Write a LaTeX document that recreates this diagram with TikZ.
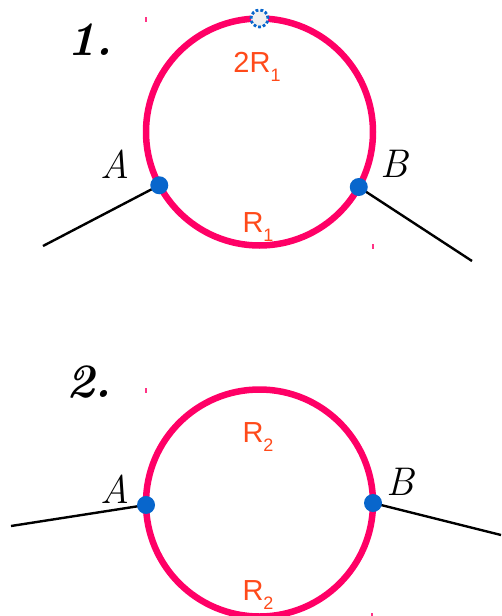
\documentclass[tikz,border=0pt]{standalone}
\usepackage{fontspec}
\usepackage{amsmath}
\usepackage{tikz}
\usepackage{xcolor}
\usetikzlibrary{positioning, calc}
\newfontfamily\labelfont{Liberation Sans}
\definecolor{ringpink}{HTML}{FF0066}
\definecolor{dotblue}{HTML}{0866CC}
\definecolor{labelred}{HTML}{FF4A1A}
\tikzset{
    ring/.style={
        circle,
        draw=ringpink,
        line width=6.5pt,
        minimum size=227pt,
        inner sep=0pt,
        outer sep=0pt
    },
    contact/.style={
        circle,
        fill=dotblue,
        minimum size=18pt,
        inner sep=0pt
    },
    ghost/.style={
        circle,
        fill=gray!12,
        draw=dotblue,
        dotted,
        line width=2.8pt,
        minimum size=17pt,
        inner sep=0pt
    },
    resist/.style={
        text=labelred,
        font=\labelfont\fontsize{29}{30}\selectfont,
        inner sep=0pt,
        anchor=base
    },
    pointname/.style={
        font=\fontsize{40}{42}\selectfont\itshape,
        inner sep=0pt,
        anchor=base west
    },
    casenum/.style={
        font=\fontsize{48}{50}\selectfont\bfseries\itshape,
        inner sep=0pt,
        anchor=base west
    },
    wire/.style={line width=2.4pt, black},
    tick/.style={line width=1.2pt, ringpink!80}
}
\newcommand{\sub}[1]{\raisebox{-9pt}{\fontsize{18}{18}\selectfont #1}}

\begin{document}
\begin{tikzpicture}[x=1pt, y=-1pt]
        \useasboundingbox (0,0) rectangle (501,616);

        % case 1
        \node (ringA) [ring] at (259.5,132) {};
        \node (num1) [casenum] at (67,55) {1.};
        \node (top1) [resist] at (257,72) {2R\sub{1}};
        \node (bot1) [resist] at (258,232) {R\sub{1}};
        \coordinate (endA1) at (43,246);
        \coordinate (endB1) at (472,261);
        \node (nameA1) [pointname] at (100,178) {A};
        \node (nameB1) [pointname] at (380,177) {B};

        \draw [wire] (ringA.208) -- (endA1);
        \draw [wire] (ringA.331) -- (endB1);
        \node (A1) [contact] at (ringA.208) {};
        \node (B1) [contact] at (ringA.331) {};
        \node (mid1) [ghost] at (ringA.north) {};

        % case 2
        \node (ringB) [ring] at (259.5,503) {};
        \node (num2) [casenum] at (66,397) {2.};
        \node (top2) [resist] at (258,442) {R\sub{2}};
        \node (bot2) [resist] at (258,600) {R\sub{2}};
        \coordinate (endA2) at (11,526);
        \coordinate (endB2) at (501,535);
        \node (nameA2) [pointname] at (100,503) {A};
        \node (nameB2) [pointname] at (386,495) {B};

        \draw [wire] (ringB.181) -- (endA2);
        \draw [wire] (ringB.0) -- (endB2);
        \node (A2) [contact] at (ringB.181) {};
        \node (B2) [contact] at (ringB.0) {};

        % corner marks
        \draw [tick] (146,17) -- (146,22);
        \draw [tick] (373,244) -- (373,249);
        \draw [tick] (146,388) -- (146,393);
        \draw [tick] (372,613) -- (372,616);

    \end{tikzpicture}
\end{document}
